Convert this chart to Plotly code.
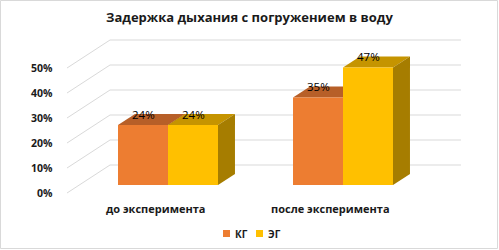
import plotly.graph_objects as go

# ---- data ----
categories = ["до эксперимента", "после эксперимента"]
series_names = ["КГ", "ЭГ"]
kg_values = [24, 35]
eg_values = [24, 47]
y_ticks = [0, 10, 20, 30, 40, 50]
y_tick_labels = ["0%", "10%", "20%", "30%", "40%", "50%"]
title_text = "Задержка дыхания с погружением в воду"

# ---- style ----
front_colors = ["#ED7D31", "#FFC000"]
top_colors = ["#B75F28", "#C59400"]
side_colors = ["#9A4F20", "#A67D00"]
grid_color = "#D9D9D9"
text_color = "#1A1A1A"
FONT = "Open Sans"

W, H = 499, 250
BAR_W = 0.2857          # bar width in x data units
DX = 0.097              # 3D depth offset (x units)
DY = 4.4                # 3D depth offset (y units)
X_RANGE = [-0.96, 1.8914]
Y_RANGE = [-26, 74]
BACK_OFF = 8.0          # back wall offset (y units)
FRONT_OFF = -3.2        # front edge offset (y units)
WALL_X0 = -0.3314
WALL_X1 = 1.674
FRONT_X = -0.577

xpos = list(range(len(categories)))
series = [kg_values, eg_values]
offsets = [-BAR_W, 0.0]

fig = go.Figure()
for name, vals, off, col in zip(series_names, series, offsets, front_colors):
    fig.add_trace(go.Bar(
        x=xpos, y=vals, name=name, offset=off, width=BAR_W,
        marker=dict(color=col, line=dict(width=0)),
        showlegend=False, hoverinfo="skip",
    ))

shapes = []
# gridlines: back wall + left side diagonal
for v in y_ticks:
    yb = v + BACK_OFF
    yf = v + FRONT_OFF
    shapes.append(dict(type="line", xref="x", yref="y", x0=WALL_X0, x1=WALL_X1,
                       y0=yb, y1=yb, line=dict(color=grid_color, width=1), layer="below"))
    shapes.append(dict(type="line", xref="x", yref="y", x0=FRONT_X, x1=WALL_X0,
                       y0=yf, y1=yb, line=dict(color=grid_color, width=1), layer="below"))

# 3D top/side faces
for gi, xc in enumerate(xpos):
    for si, vals in enumerate(series):
        v = vals[gi]
        x0 = xc + offsets[si]
        x1 = x0 + BAR_W
        top = f"M {x0},{v} L {x1},{v} L {x1+DX},{v+DY} L {x0+DX},{v+DY} Z"
        side = f"M {x1},0 L {x1},{v} L {x1+DX},{v+DY} L {x1+DX},{DY} Z"
        shapes.append(dict(type="path", xref="x", yref="y", path=top,
                           fillcolor=top_colors[si], line=dict(width=0), layer="below"))
        shapes.append(dict(type="path", xref="x", yref="y", path=side,
                           fillcolor=side_colors[si], line=dict(width=0), layer="below"))

annotations = []
# value labels
for gi, xc in enumerate(xpos):
    for si, vals in enumerate(series):
        v = vals[gi]
        annotations.append(dict(x=xc + offsets[si] + BAR_W / 2, y=v + DY, xref="x", yref="y",
                                text=f"{v}%", showarrow=False, yanchor="middle",
                                font=dict(family=FONT, size=11.5, color="#000000")))
# y tick labels
for v, lab in zip(y_ticks, y_tick_labels):
    annotations.append(dict(x=FRONT_X, y=v + FRONT_OFF, xref="x", yref="y", text=f"<b>{lab}</b>",
                            showarrow=False, xanchor="right", xshift=-12, yanchor="middle",
                            font=dict(family=FONT, size=10.5, color=text_color)))
# category labels
for xc, cat in zip(xpos, categories):
    annotations.append(dict(x=xc, y=1 - 208 / H, xref="x", yref="paper", text=f"<b>{cat}</b>",
                            showarrow=False, xshift=-13, yanchor="middle",
                            font=dict(family=FONT, size=11, color=text_color)))
# title
annotations.append(dict(x=0.5, y=1 - 17 / H, xref="paper", yref="paper", text=f"<b>{title_text}</b>",
                        showarrow=False, yanchor="middle",
                        font=dict(family=FONT, size=13, color=text_color)))
# legend (manual)
leg_x = [223, 256]
for name, col, lx in zip(series_names, front_colors, leg_x):
    shapes.append(dict(type="rect", xref="paper", yref="paper",
                       x0=lx / W, x1=(lx + 7) / W, y0=1 - 237 / H, y1=1 - 230 / H,
                       fillcolor=col, line=dict(width=0)))
    annotations.append(dict(x=(lx + 10) / W, y=1 - 233.5 / H, xref="paper", yref="paper",
                            text=f"<b>{name}</b>", showarrow=False, xanchor="left", yanchor="middle",
                            font=dict(family=FONT, size=10, color=text_color)))
# chart border
shapes.append(dict(type="rect", xref="paper", yref="paper", x0=0.5 / W, x1=497.5 / W,
                   y0=1 - 248.5 / H, y1=1 - 0.5 / H, line=dict(color="#D9D9D9", width=1)))

fig.update_layout(
    width=W, height=H, margin=dict(l=0, r=0, t=0, b=0),
    paper_bgcolor="white", plot_bgcolor="white",
    barmode="overlay", showlegend=False,
    xaxis=dict(range=X_RANGE, visible=False, fixedrange=True),
    yaxis=dict(range=Y_RANGE, visible=False, fixedrange=True),
    shapes=shapes, annotations=annotations,
)
fig.write_html("out.html", config={"displayModeBar": False},
               post_script="document.body.style.margin='0';document.body.style.overflow='hidden';")
